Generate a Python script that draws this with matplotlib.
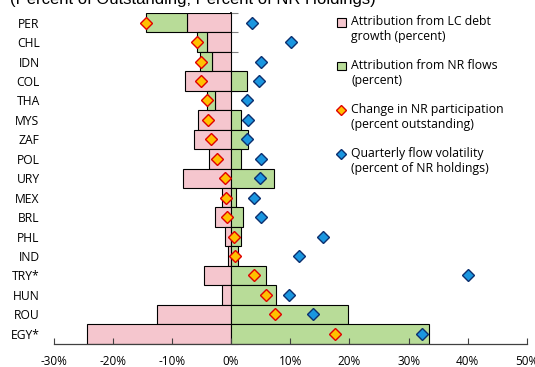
import numpy as np
import matplotlib
matplotlib.use('Agg')
import matplotlib.pyplot as plt
from matplotlib.patches import Patch, Rectangle
from matplotlib.lines import Line2D
from matplotlib.legend_handler import HandlerBase
from matplotlib.ticker import FuncFormatter

plt.rcParams['font.family'] = ['Open Sans', 'DejaVu Sans']

# data
countries = ['PER', 'CHL', 'IDN', 'COL', 'THA', 'MYS', 'ZAF', 'POL', 'URY',
             'MEX', 'BRL', 'PHL', 'IND', 'TRY*', 'HUN', 'ROU', 'EGY*']
lc_growth = [-7.5, -4.0, -3.3, -7.7, -2.7, -5.6, -6.2, -3.8, -8.2,
             -1.6, -2.65, -1.1, -0.6, -4.5, -1.6, -12.45, -24.3]
nr_flows = [-6.9, -1.7, -1.9, 2.7, -1.3, 1.75, 2.9, 1.6, 7.3,
            0.8, 2.0, 1.6, 1.2, 5.85, 7.55, 19.8, 33.4]
nr_change = [-14.4, -5.7, -5.1, -5.0, -4.0, -3.9, -3.4, -2.4, -1.0,
             -0.85, -0.7, 0.5, 0.6, 3.9, 5.9, 7.4, 17.6]
volatility = [3.5, 10.1, 5.1, 4.7, 2.65, 2.9, 2.65, 5.1, 4.95,
              3.8, 5.1, 15.5, 11.4, 40.0, 9.85, 13.85, 32.3]

pink = '#F5C6CE'
green = '#B8DC98'
y = np.arange(len(countries))
lc = np.array(lc_growth)
nr = np.array(nr_flows)
# green stacks onto pink when same sign, else starts at zero
nr_left = np.where(np.sign(lc) == np.sign(nr), lc, 0)


class FirstLineHandler(HandlerBase):
    # puts the legend key next to the first line of a two-line label
    def __init__(self, shift):
        super().__init__()
        self.shift = shift

    def create_artists(self, legend, orig, xdescent, ydescent, width, height, fontsize, trans):
        if isinstance(orig, Patch):
            art = Rectangle((-xdescent, -ydescent + self.shift), width, height,
                            facecolor=orig.get_facecolor(), edgecolor=orig.get_edgecolor(),
                            linewidth=orig.get_linewidth())
        else:
            art = Line2D([width / 2 - xdescent], [height / 2 - ydescent + self.shift],
                         marker=orig.get_marker(), ms=orig.get_markersize(),
                         mfc=orig.get_markerfacecolor(), mec=orig.get_markeredgecolor(),
                         mew=orig.get_markeredgewidth(), ls='none')
        art.set_transform(trans)
        return [art]


fig = plt.figure(figsize=(5.35, 3.67), dpi=100)
ax = fig.add_axes([0.1, 0.064, 0.885, 0.9006])

ax.barh(y, lc, height=1.0, color=pink, edgecolor='black', linewidth=0.8)
ax.barh(y, nr, left=nr_left, height=1.0, color=green, edgecolor='black', linewidth=0.8)
ax.plot(nr_change, y, 'D', ms=6.5, mfc='#FFC000', mec='#E00000', mew=1.0, ls='none')
ax.plot(volatility, y, 'D', ms=6.5, mfc='#1A96E0', mec='#0C2F6E', mew=1.0, ls='none')

ax.set_xlim(-30, 50)
ax.set_ylim(len(countries) - 0.5, -0.5)
ax.set_xticks(np.arange(-30, 51, 10))
ax.xaxis.set_major_formatter(FuncFormatter(lambda v, p: '%d%%' % v))
ax.tick_params(axis='x', direction='in', length=4, width=0.8, color='#404040',
               labelsize=8.5, pad=8)
ax.set_yticks(y)
ax.set_yticklabels(countries)
ax.tick_params(axis='y', length=0, labelsize=8.7, pad=10)

for s in ['top', 'right', 'left']:
    ax.spines[s].set_visible(False)
ax.spines['bottom'].set_color('#404040')
ax.spines['bottom'].set_linewidth(0.9)

# zero line with small boundary ticks
sec = ax.secondary_yaxis(30 / 80)
sec.set_yticks(np.arange(-0.5, len(countries), 1))
sec.tick_params(direction='in', length=5, width=0.8, color='#808080', labelleft=False)
sec.spines['left'].set_color('black')
sec.spines['left'].set_linewidth(1.3)

handles = [
    Patch(facecolor=pink, edgecolor='black', linewidth=0.8),
    Patch(facecolor=green, edgecolor='black', linewidth=0.8),
    Line2D([], [], marker='D', ms=5, mfc='#FFC000', mec='#E00000', mew=1.0, ls='none'),
    Line2D([], [], marker='D', ms=5, mfc='#1A96E0', mec='#0C2F6E', mew=1.0, ls='none'),
]
labels = ['Attribution from LC debt\ngrowth (percent)',
          'Attribution from NR flows\n(percent)',
          'Change in NR participation\n(percent outstanding)',
          'Quarterly flow volatility\n(percent of NR holdings)']
hmap = {h: FirstLineHandler(5.4) for h in handles}
fig.legend(handles, labels, loc='upper left', bbox_to_anchor=(337 / 535, 1 - 15 / 367),
           frameon=False, fontsize=8.8, handlelength=0.7, handleheight=0.7,
           handletextpad=0.45, labelspacing=1.3, borderpad=0, borderaxespad=0,
           handler_map=hmap)

fig.text(10 / 535, 1 - 4.3 / 367, '(Percent of Outstanding; Percent of NR Holdings)',
         fontsize=12, va='baseline', ha='left', family='Liberation Sans')

plt.savefig('out.png', dpi=100)
plt.close()
